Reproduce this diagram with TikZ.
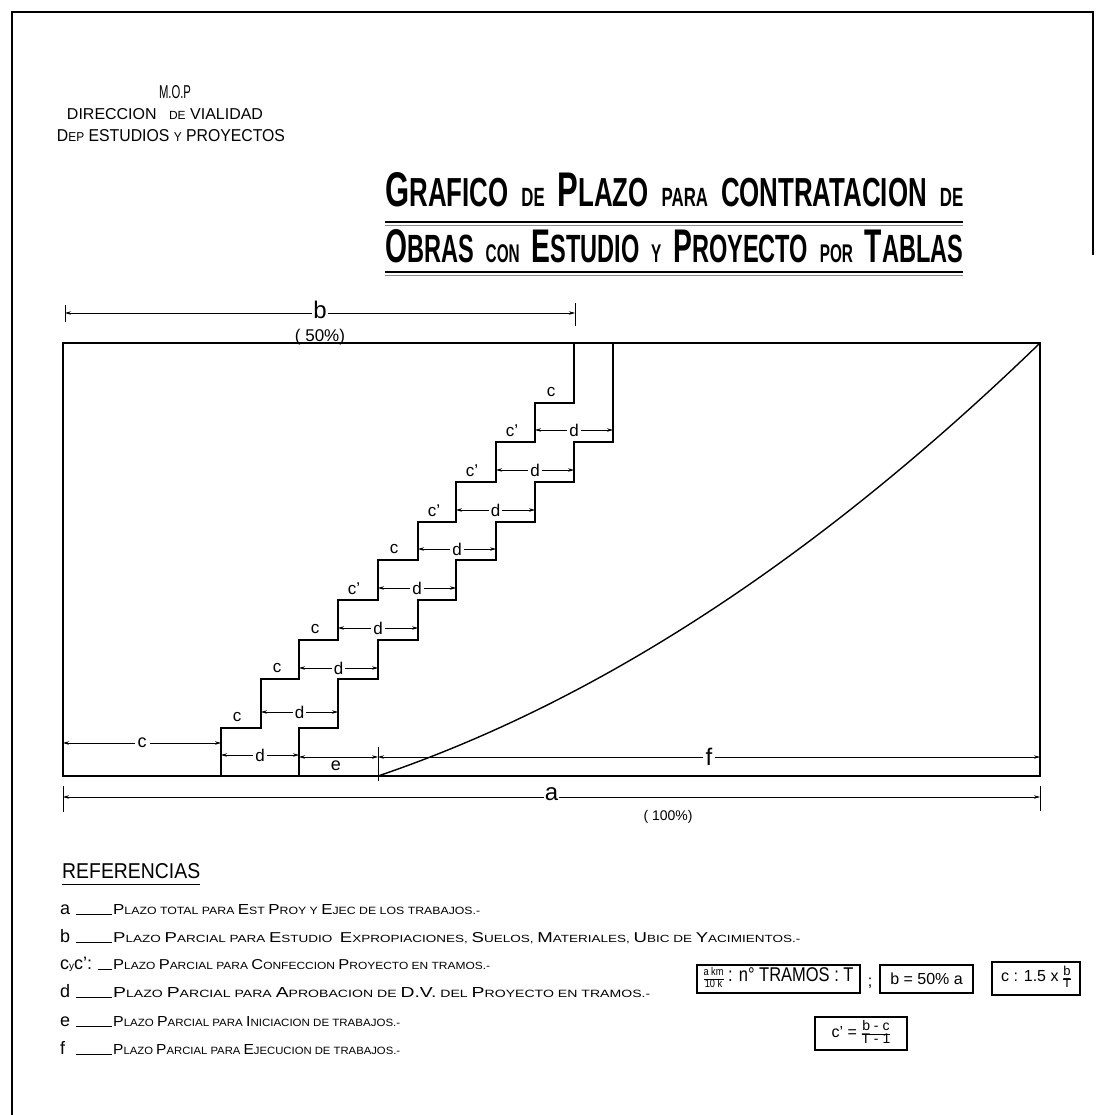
\documentclass[tikz,border=0pt]{standalone}
\usepackage{fontspec}
\setmainfont{Liberation Sans}
\usepackage{graphicx}
\usetikzlibrary{arrows.meta}
\newcommand\fitbox[3]{\resizebox{#1pt}{#2pt}{#3}}
\newcommand\Lc[1]{{\fontsize{11}{12}\selectfont #1}}
\newcommand\Tb[1]{{\fontsize{48}{48}\selectfont #1}}
\newcommand\Tm[1]{{\fontsize{40}{40}\selectfont #1}}
\newcommand\Ts[1]{{\fontsize{26}{26}\selectfont #1}}
\newcommand\Tg{\hspace{20pt}}
\newcommand\fr[2]{{\renewcommand\arraystretch{0.85}\begin{tabular}{@{}c@{}}#1\\\hline #2\end{tabular}}}
\tikzset{
  frameline/.style={line width=1.4pt},
  heavy/.style={line width=1.8pt, line join=miter},
  dim/.style={line width=0.7pt},
  dimarr/.style={dim, {Stealth[length=6pt,width=3.5pt]}-{Stealth[length=6pt,width=3.5pt]}},
  tickline/.style={line width=0.8pt},
  gaplbl/.style={fill=white, inner sep=3pt, font=\fontsize{16}{16}\selectfont},
  biglbl/.style={fill=white, inner sep=3pt, font=\fontsize{26}{26}\selectfont},
  stlbl/.style={inner sep=0pt, font=\fontsize{16}{16}\selectfont},
  txt/.style={inner sep=0pt, anchor=base west},
  ctxt/.style={inner sep=0pt, anchor=base},
  legletter/.style={inner sep=0pt, anchor=base west, font=\fontsize{18}{18}\selectfont},
  formbox/.style={draw, line width=1.3pt, inner sep=0pt, font=\fontsize{16}{17}\selectfont},
}
\begin{document}
\begin{tikzpicture}[x=1pt,y=-1pt]
\useasboundingbox (0,0) rectangle (1095,1115);
% page frame
\draw[frameline] (12,1115) -- (12,12) -- (1093,12) -- (1093,255);

% header
\node[ctxt] (mop) at (175,99) {\fitbox{32}{13}{M.O.P}};
\node[ctxt] (dir) at (165,120) {\fitbox{196}{11}{{\fontsize{12}{12}\selectfont DIRECCION\hspace{6pt} {\fontsize{9}{9}\selectfont DE} VIALIDAD}}};
\node[ctxt] (dep) at (171,142) {\fitbox{228}{12}{{\fontsize{12}{12}\selectfont D{\fontsize{9}{9}\selectfont EP} ESTUDIOS {\fontsize{9}{9}\selectfont Y} PROYECTOS}}};

% title
\node[txt] (title1) at (385,207) {\fitbox{578}{34}{\bfseries \Tb{G}\Tm{RAFICO}\Tg\Ts{DE}\Tg\Tb{P}\Tm{LAZO}\Tg\Ts{PARA}\Tg\Tm{CONTRATACION}\Tg\Ts{DE}}};
\node[txt] (title2) at (385,262) {\fitbox{578}{33}{\bfseries \Tb{O}\Tm{BRAS}\Tg\Ts{CON}\Tg\Tb{E}\Tm{STUDIO}\Tg\Ts{Y}\Tg\Tb{P}\Tm{ROYECTO}\Tg\Ts{POR}\Tg\Tb{T}\Tm{ABLAS}}};
\coordinate (u1a) at (385,222); \coordinate (u1b) at (963,222);
\coordinate (u2a) at (385,272); \coordinate (u2b) at (963,272);
\draw[line width=2.2pt] (u1a) -- (u1b);
\draw[line width=0.6pt, black!45] ([yshift=-3.5pt]u1a) -- ([yshift=-3.5pt]u1b);
\draw[line width=2.2pt] (u2a) -- (u2b);
\draw[line width=0.6pt, black!45] ([yshift=-3.5pt]u2a) -- ([yshift=-3.5pt]u2b);

% b dimension
\coordinate (bL) at (65,313); \coordinate (bR) at (575,313);
\draw[tickline] (65,305) -- (65,322);
\draw[tickline] (575,303) -- (575,326);
\draw[dimarr] (bL) -- node[biglbl, inner sep=1pt, yshift=3pt, font=\fontsize{24}{24}\selectfont] (blbl) {b} (bR);
\node[ctxt, font=\fontsize{17}{17}\selectfont] (bpct) at (320,341) {( 50\%)};

% main rectangle
\draw[heavy] (63,343) rectangle (1040,776);

% stairs
\draw[heavy] (221,776) |- (261,728) |- (299,679) |- (338,640) |- (378,600) |- (418,560) |- (456,522) |- (496,482) |- (535,442) |- (574,403) -- (574,343);
\draw[heavy] (299,776) |- (338,728) |- (378,679) |- (418,640) |- (456,600) |- (496,560) |- (535,522) |- (574,482) |- (613,442) -- (613,343);

% d dimensions
\foreach \xa/\xb/\yy/\nm in {221/299/755/0, 261/338/712/1, 299/378/668/2, 338/418/628/3, 378/456/588/4, 418/496/549/5, 456/535/510/6, 496/574/470/7, 535/613/430/8}{
  \coordinate (dL\nm) at (\xa,\yy); \coordinate (dR\nm) at (\xb,\yy);
  \draw[dimarr] (dL\nm) -- node[gaplbl, inner sep=2pt, font=\fontsize{17}{17}\selectfont] (dlbl\nm) {d} (dR\nm);
}
% c labels
\foreach \xx/\yy/\tx/\nm in {237/717/c/0, 277/668/c/1, 315/629/c/2, 354/589/c'/3, 394/549/c/4, 434/511/c'/5, 472/471/c'/6, 512/431/c'/7, 551/392/c/8}{
  \node[stlbl, font=\fontsize{17}{17}\selectfont] (clbl\nm) at (\xx,\yy) {\tx};
}

% bottom c, e, f dimensions
\coordinate (cL) at (63,743); \coordinate (cR) at (221,743);
\draw[dimarr] (cL) -- node[gaplbl, font=\fontsize{18}{18}\selectfont] (clblb) {c} (cR);
\coordinate (eL) at (299,757); \coordinate (eR) at (378,757);
\draw[dimarr] (eL) -- (eR);
\node[stlbl, font=\fontsize{18}{18}\selectfont] (elbl) at (336,766) {e};
\draw[tickline] (378,747) -- (378,781);
\coordinate (fL) at (378,757); \coordinate (fR) at (1040,757);
\draw[dimarr] (fL) -- node[biglbl, font=\fontsize{24}{24}\selectfont] (flbl) {f} (fR);

% curve
\coordinate (cv0) at (378,776); \coordinate (cv1) at (1040,343);
\draw[line width=1.4pt] (cv0) .. controls (599,701) and (819,557) .. (cv1);

% a dimension
\coordinate (aL) at (63,797); \coordinate (aR) at (1040,797);
\draw[tickline] (63,786) -- (63,812);
\draw[tickline] (1040,786) -- (1040,811);
\draw[dimarr] (aL) -- node[biglbl, yshift=3pt, inner sep=1pt, font=\fontsize{24}{24}\selectfont] (albl) {a} (aR);
\node[ctxt, font=\fontsize{14}{14}\selectfont] (apct) at (668,820) {( 100\%)};

% references
\node[txt] (refs) at (62,878) {\fitbox{138}{15}{REFERENCIAS}};
\draw[line width=0.9pt] (62,884) -- (200,884);

\foreach \yy/\lt/\ux/\nm in {914/a/76/a, 942/b/76/b, 969/{c{\fontsize{10}{10}\selectfont y}c':}/98/c, 997/d/76/d, 1026/e/76/e, 1054/f/76/f}{
  \node[legletter] (leg\nm) at (60,\yy) {\lt};
  \draw[line width=0.9pt] (\ux,\yy) -- (112,\yy);
}
\newcommand\legtxt[1]{{\fontsize{8}{9}\selectfont #1}}
\node[txt] (ta) at (113,914) {\fitbox{367}{10}{\legtxt{\Lc{P}LAZO TOTAL PARA \Lc{E}ST \Lc{P}ROY Y \Lc{E}JEC DE LOS TRABAJOS.-}}};
\node[txt] (tb) at (113,942) {\fitbox{687}{10}{\legtxt{\Lc{P}LAZO \Lc{P}ARCIAL PARA \Lc{E}STUDIO\ \ \Lc{E}XPROPIACIONES, \Lc{S}UELOS, \Lc{M}ATERIALES, \Lc{U}BIC DE \Lc{Y}ACIMIENTOS.-}}};
\node[txt] (tc) at (113,969) {\fitbox{377}{10}{\legtxt{\Lc{P}LAZO \Lc{P}ARCIAL PARA \Lc{C}ONFECCION \Lc{P}ROYECTO EN TRAMOS.-}}};
\node[txt] (td) at (113,997) {\fitbox{537}{10}{\legtxt{\Lc{P}LAZO \Lc{P}ARCIAL PARA \Lc{A}PROBACION DE \Lc{D.V.} DEL \Lc{P}ROYECTO EN TRAMOS.-}}};
\node[txt] (te) at (113,1026) {\fitbox{287}{10}{\legtxt{\Lc{P}LAZO \Lc{P}ARCIAL PARA \Lc{I}NICIACION DE TRABAJOS.-}}};
\node[txt] (tf) at (113,1054) {\fitbox{287}{10}{\legtxt{\Lc{P}LAZO \Lc{P}ARCIAL PARA \Lc{E}JECUCION DE TRABAJOS.-}}};

% formula boxes
\node[formbox, minimum width=163pt, minimum height=28pt] (f1) at (778.5,979) {\fitbox{150}{14}{{\fontsize{9}{9}\selectfont\fr{a km}{10 k}}\ : n° TRAMOS : T}};
\node[inner sep=0pt, font=\fontsize{16}{16}\selectfont] (semi) at (870,983) {;};
\node[formbox, minimum width=93pt, minimum height=28pt] (f2) at (926.5,979) {b = 50\% a};
\node[formbox, minimum width=88pt, minimum height=33pt] (f3) at (1036,978.5) {c : 1.5 x {\fontsize{13}{13}\selectfont\fr{b}{T}}};
\node[formbox, minimum width=92pt, minimum height=33pt] (f4) at (861,1033.5) {c' = {\fontsize{14}{14}\selectfont\fr{b - c}{T - 1}}};
\end{tikzpicture}
\end{document}
